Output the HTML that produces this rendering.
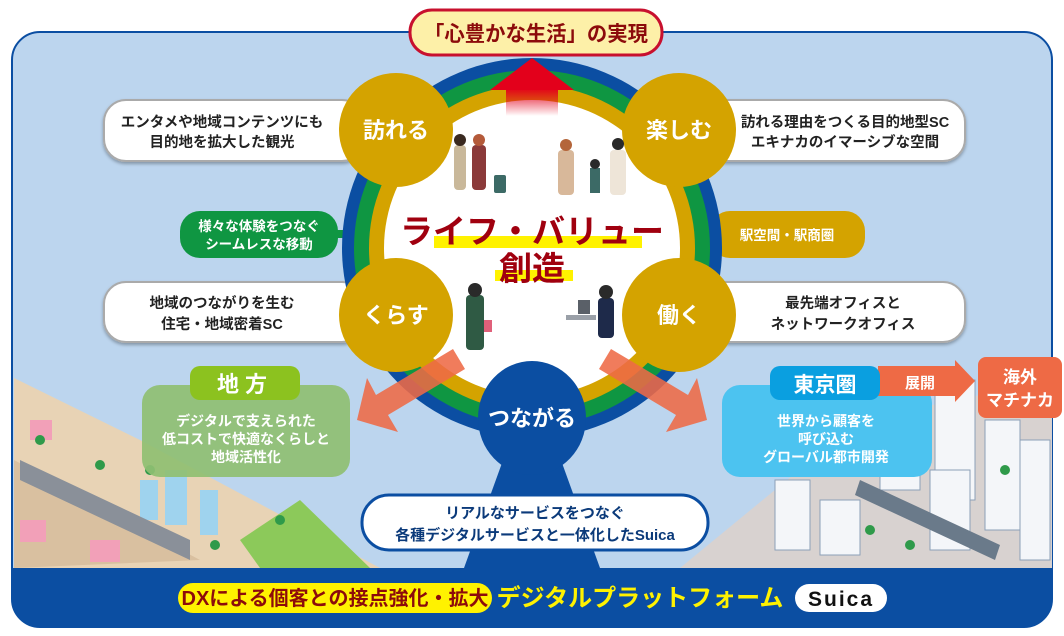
<!DOCTYPE html>
<html><head><meta charset="utf-8"><style>
body{margin:0;width:1064px;height:631px;overflow:hidden;background:#fff}
svg text{font-family:"Liberation Sans","Noto Sans CJK JP",sans-serif;font-weight:bold}
</style></head><body>
<svg width="1064" height="631" viewBox="0 0 1064 631" xmlns="http://www.w3.org/2000/svg">
<defs>
<linearGradient id="rg" x1="0" y1="0" x2="0" y2="1"><stop offset="0" stop-color="#e3001b"/><stop offset="1" stop-color="#e3001b" stop-opacity="0"/></linearGradient>
<filter id="sh"><feDropShadow dx="0" dy="2" stdDeviation="1.5" flood-opacity="0.3"/></filter>
</defs>
<rect x="12" y="32" width="1040" height="595" rx="28" fill="#bcd5ee" stroke="#0b4ea2" stroke-width="2"/>
<!-- city left -->
<polygon points="14,378 140,440 380,568 14,568" fill="#e8d3b5"/>
<polygon points="14,460 200,560 14,568" fill="#d9c0a0"/>
<g fill="#f2a0b8"><rect x="30" y="420" width="22" height="20"/><rect x="20" y="520" width="26" height="22"/><rect x="90" y="540" width="30" height="22"/></g>
<g fill="#9fd3ee"><rect x="140" y="480" width="18" height="40"/><rect x="165" y="470" width="22" height="55"/><rect x="200" y="490" width="18" height="45"/></g>
<polygon points="20,460 190,540 190,560 20,480" fill="#8a9099"/>
<polygon points="240,540 300,500 370,568 260,568" fill="#8cc95a"/>
<g fill="#2f9a4a"><circle cx="40" cy="440" r="5"/><circle cx="100" cy="465" r="5"/><circle cx="150" cy="470" r="5"/><circle cx="215" cy="545" r="5"/><circle cx="280" cy="520" r="5"/></g>
<!-- city right -->
<polygon points="680,568 860,420 1052,380 1052,568" fill="#d8d2d0"/>
<g fill="#f4f6f9" stroke="#8ca0b8" stroke-width="1">
<rect x="935" y="380" width="40" height="120"/><rect x="985" y="420" width="35" height="110"/><rect x="775" y="480" width="35" height="70"/><rect x="820" y="500" width="40" height="55"/><rect x="930" y="470" width="40" height="80"/><rect x="1020" y="440" width="30" height="120"/><rect x="880" y="440" width="40" height="50"/></g>
<polygon points="860,480 1000,545 995,560 855,495" fill="#6a7a8a"/>
<g fill="#2f9a4a"><circle cx="870" cy="530" r="5"/><circle cx="910" cy="545" r="5"/><circle cx="1005" cy="470" r="5"/></g>
<!-- bottom band -->
<path d="M12,568 H1052 V600 a28,28 0 0 1 -28,27 H40 a28,28 0 0 1 -28,-27 Z" fill="#0b4ea2"/>
<rect x="178" y="583" width="314" height="30" rx="15" fill="#fff200"/>
<text x="335" y="605" font-size="20" fill="#8c0b0b" text-anchor="middle">DXによる個客との接点強化・拡大</text>
<text x="640" y="606" font-size="24" fill="#fff200" text-anchor="middle">デジタルプラットフォーム</text>
<rect x="795" y="584" width="92" height="28" rx="14" fill="#fff"/>
<text x="841" y="606" font-size="21" fill="#111" text-anchor="middle" letter-spacing="2">Suica</text>
<!-- tsunagaru stem -->
<polygon points="532,380 600,568 464,568" fill="#0b4ea2"/>
<!-- side boxes -->
<g filter="url(#sh)">
<rect x="104" y="100" width="260" height="61" rx="22" fill="#fff" stroke="#aaa" stroke-width="2"/>
<rect x="104" y="282" width="260" height="60" rx="22" fill="#fff" stroke="#aaa" stroke-width="2"/>
<rect x="690" y="100" width="275" height="61" rx="22" fill="#fff" stroke="#aaa" stroke-width="2"/>
<rect x="690" y="282" width="275" height="60" rx="22" fill="#fff" stroke="#aaa" stroke-width="2"/>
</g>
<rect x="180" y="211" width="158" height="47" rx="20" fill="#0f9642"/>
<rect x="330" y="230" width="20" height="8" fill="#0f9642"/>
<rect x="710" y="211" width="155" height="47" rx="20" fill="#d4a300"/>
<rect x="712" y="230" width="20" height="8" fill="#d4a300"/>
<g font-size="14.5" fill="#222" text-anchor="middle">
<text x="222" y="127">エンタメや地域コンテンツにも</text><text x="222" y="147">目的地を拡大した観光</text>
<text x="222" y="308">地域のつながりを生む</text><text x="222" y="329">住宅・地域密着SC</text>
<text x="845" y="127">訪れる理由をつくる目的地型SC</text><text x="845" y="147">エキナカのイマーシブな空間</text>
<text x="843" y="308">最先端オフィスと</text><text x="843" y="329">ネットワークオフィス</text>
</g>
<g font-size="13.5" fill="#fff" text-anchor="middle" font-weight="normal">
<text x="259" y="231">様々な体験をつなぐ</text><text x="259" y="249">シームレスな移動</text>
<text x="787" y="240">駅空間・駅商圏</text>
</g>
<!-- rings -->
<circle cx="532" cy="248" r="190" fill="#0b4ea2"/>
<circle cx="532" cy="248" r="178" fill="#0f9642"/>
<circle cx="532" cy="248" r="163" fill="#d4a300"/>
<circle cx="532" cy="248" r="148" fill="#fff"/>
<!-- orange arrows -->
<polygon points="357,420 367,378 376,395 453,349 465,369 388,415 398,432" fill="#ee6a45" opacity="0.88"/>
<polygon points="707,420 697,378 688,395 611,349 599,369 676,415 666,432" fill="#ee6a45" opacity="0.88"/>
<!-- red arrow up -->
<rect x="506" y="88" width="52" height="28" fill="url(#rg)"/>
<polygon points="532,58 490,90 574,90" fill="#e3001b"/>
<!-- gold circles -->
<g fill="#d4a300">
<circle cx="396" cy="130" r="57"/><circle cx="679" cy="130" r="57"/>
<circle cx="396" cy="315" r="57"/><circle cx="679" cy="315" r="57"/></g>
<g font-size="22" fill="#fff" text-anchor="middle">
<text x="396" y="138">訪れる</text><text x="679" y="138">楽しむ</text>
<text x="396" y="323">くらす</text><text x="679" y="323">働く</text></g>
<!-- people (simplified) -->
<g>
<rect x="454" y="145" width="12" height="45" rx="4" fill="#c9b89a"/><circle cx="460" cy="140" r="6" fill="#3a2a20"/>
<rect x="472" y="145" width="14" height="45" rx="4" fill="#8b3a3a"/><circle cx="479" cy="140" r="6" fill="#b45a3a"/>
<rect x="494" y="175" width="12" height="18" rx="2" fill="#3c6a66"/>
<rect x="558" y="150" width="16" height="45" rx="4" fill="#d8b89a"/><circle cx="566" cy="145" r="6" fill="#b4653a"/>
<rect x="590" y="168" width="10" height="25" fill="#3c6a66"/><circle cx="595" cy="164" r="5" fill="#2a2a2a"/>
<rect x="610" y="150" width="16" height="45" rx="4" fill="#eee5d8"/><circle cx="618" cy="144" r="6" fill="#2a2a2a"/>
<rect x="466" y="295" width="18" height="55" rx="4" fill="#2f5a44"/><circle cx="475" cy="290" r="7" fill="#2a2a2a"/>
<rect x="484" y="320" width="8" height="12" fill="#e0607a"/>
<rect x="566" y="315" width="30" height="5" fill="#9aa0a8"/><rect x="578" y="300" width="12" height="14" fill="#5a6068"/>
<rect x="598" y="298" width="16" height="40" rx="4" fill="#1e2a4a"/><circle cx="606" cy="292" r="7" fill="#2a2a2a"/>
</g>
<!-- life value -->
<rect x="434" y="236" width="208" height="12" fill="#fff200"/>
<rect x="495" y="270" width="78" height="11" fill="#fff200"/>
<text x="532" y="243" font-size="33" fill="#a0000f" text-anchor="middle">ライフ・バリュー</text>
<text x="532" y="280" font-size="33" fill="#a0000f" text-anchor="middle">創造</text>
<!-- tsunagaru -->
<ellipse cx="532" cy="418" rx="54" ry="57" fill="#0b4ea2"/>
<text x="532" y="426" font-size="22" fill="#fff" text-anchor="middle">つながる</text>
<rect x="362" y="495" width="346" height="55" rx="27" fill="#fff" stroke="#0b4ea2" stroke-width="3"/>
<g font-size="15" fill="#0b3a7a" text-anchor="middle">
<text x="535" y="518">リアルなサービスをつなぐ</text><text x="535" y="540">各種デジタルサービスと一体化したSuica</text></g>
<!-- title -->
<rect x="410" y="10" width="252" height="45" rx="22" fill="#fdf0a8" stroke="#c8102e" stroke-width="3"/>
<text x="536" y="41" font-size="21" fill="#8c0b0b" text-anchor="middle" textLength="224" lengthAdjust="spacingAndGlyphs">「心豊かな生活」の実現</text>
<!-- chiho -->
<rect x="142" y="385" width="208" height="92" rx="18" fill="#8fbf72" opacity="0.92"/>
<rect x="190" y="366" width="110" height="34" rx="10" fill="#8cc21f"/>
<text x="245" y="392" font-size="22" fill="#fff" text-anchor="middle" letter-spacing="6">地方</text>
<g font-size="14" fill="#fff" text-anchor="middle"><text x="246" y="426">デジタルで支えられた</text><text x="246" y="444">低コストで快適なくらしと</text><text x="246" y="462">地域活性化</text></g>
<!-- tokyo -->
<rect x="722" y="385" width="210" height="92" rx="18" fill="#4cc3f0"/>
<polygon points="878,366 955,366 955,360 975,381 955,402 955,396 878,396" fill="#ee6a45"/>
<text x="920" y="388" font-size="15" fill="#fff" text-anchor="middle">展開</text>
<rect x="770" y="366" width="110" height="34" rx="10" fill="#0a9fe0"/>
<text x="825" y="392" font-size="21" fill="#fff" text-anchor="middle">東京圏</text>
<g font-size="14" fill="#fff" text-anchor="middle"><text x="826" y="426">世界から顧客を</text><text x="826" y="444">呼び込む</text><text x="826" y="462">グローバル都市開発</text></g>
<rect x="978" y="357" width="84" height="61" rx="8" fill="#ee6a45"/>
<g font-size="17" fill="#fff" text-anchor="middle"><text x="1020" y="383">海外</text><text x="1020" y="406">マチナカ</text></g>
</svg>
</body></html>
